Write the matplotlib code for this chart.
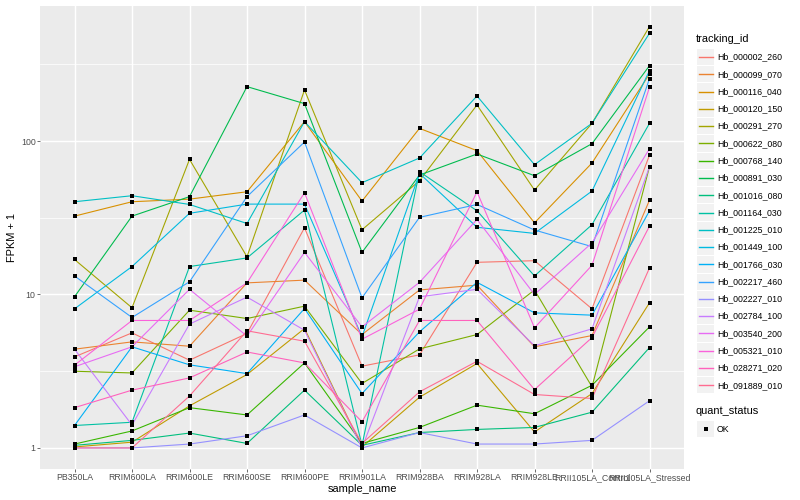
import numpy as np
import matplotlib
matplotlib.use("Agg")
import matplotlib.pyplot as plt
from matplotlib.patches import Rectangle
from matplotlib.lines import Line2D

plt.rcParams['font.family'] = ['Liberation Sans', 'DejaVu Sans']

samples = ["PB350LA", "RRIM600LA", "RRIM600LE", "RRIM600SE", "RRIM600PE", "RRIM901LA",
           "RRIM928BA", "RRIM928LA", "RRIM928LE", "RRII105LA_Control", "RRII105LA_Stressed"]

tracking_ids = ["Hb_000002_260", "Hb_000099_070", "Hb_000116_040", "Hb_000120_150",
                "Hb_000291_270", "Hb_000622_080", "Hb_000768_140", "Hb_000891_030",
                "Hb_001016_080", "Hb_001164_030", "Hb_001225_010", "Hb_001449_100",
                "Hb_001766_030", "Hb_002217_460", "Hb_002227_010", "Hb_002784_100",
                "Hb_003540_200", "Hb_005321_010", "Hb_028271_020", "Hb_091889_010"]

# FPKM values (plotted as FPKM + 1)
fpkm_000002_260 = [2.92, 4.62, 2.73, 4.57, 26.2, 2.41, 3.04, 15.2, 15.6, 7.06, 80.0]
fpkm_000099_070 = [3.40, 3.91, 3.60, 10.9, 11.4, 4.48, 9.7, 10.5, 3.56, 4.40, 40.2]
fpkm_000116_040 = [31.4, 39.2, 40.8, 45.7, 132.7, 39.6, 119.9, 85.5, 28.3, 70.9, 272.5]
fpkm_000120_150 = [0.015, 0.09, 0.88, 2.01, 5.00, 0.015, 1.14, 2.55, 0.27, 1.26, 7.83]
fpkm_000291_270 = [15.9, 7.19, 74.9, 16.6, 214.1, 25.4, 54.1, 170.7, 46.9, 129.4, 555.8]
fpkm_000622_080 = [2.16, 2.08, 6.90, 5.97, 7.39, 1.63, 3.42, 4.48, 9.7, 1.50, 67.0]
fpkm_000768_140 = [0.06, 0.29, 0.83, 0.64, 2.58, 0.07, 0.36, 0.90, 0.67, 1.56, 5.15]
fpkm_000891_030 = [8.66, 31.4, 42.4, 225.1, 174.2, 17.8, 59.0, 81.3, 58.4, 95.1, 308.9]
fpkm_001016_080 = [0.04, 0.12, 0.25, 0.07, 1.38, 0.04, 0.26, 0.32, 0.36, 0.71, 3.51]
fpkm_001164_030 = [0.40, 0.47, 14.2, 16.3, 34.5, 0.04, 62.1, 34.1, 12.2, 27.5, 129.4]
fpkm_001225_010 = [39.2, 43.0, 37.6, 28.0, 132.7, 52.5, 76.5, 195.6, 69.1, 129.4, 502.7]
fpkm_001449_100 = [7.06, 14.2, 32.8, 37.8, 37.8, 4.30, 60.5, 26.4, 24.0, 46.2, 286.4]
fpkm_001766_030 = [0.40, 3.56, 2.48, 2.05, 7.10, 1.26, 4.71, 11.0, 6.59, 6.33, 34.1]
fpkm_002217_460 = [12.2, 6.08, 11.1, 42.4, 97.5, 8.51, 30.8, 37.6, 25.3, 19.5, 254.0]
fpkm_002227_010 = [0.0, 0.0, 0.06, 0.20, 0.64, 0.0, 0.26, 0.06, 0.06, 0.12, 1.03]
fpkm_002784_100 = [3.40, 0.41, 5.41, 8.61, 4.85, 0.0, 8.66, 9.8, 3.63, 4.97, 67.0]
fpkm_003540_200 = [2.38, 3.56, 9.8, 4.35, 17.8, 5.15, 11.0, 29.8, 9.0, 20.7, 88.1]
fpkm_005321_010 = [2.46, 5.77, 5.77, 10.9, 45.0, 4.11, 7.02, 45.7, 5.06, 14.5, 222.9]
fpkm_028271_020 = [0.83, 1.38, 1.86, 3.22, 2.58, 0.48, 5.77, 5.77, 1.40, 4.24, 26.9]
fpkm_091889_010 = [0.0, 0.0, 1.18, 4.80, 3.96, 0.07, 1.32, 2.67, 1.23, 1.10, 13.9]

series = [fpkm_000002_260, fpkm_000099_070, fpkm_000116_040, fpkm_000120_150,
          fpkm_000291_270, fpkm_000622_080, fpkm_000768_140, fpkm_000891_030,
          fpkm_001016_080, fpkm_001164_030, fpkm_001225_010, fpkm_001449_100,
          fpkm_001766_030, fpkm_002217_460, fpkm_002227_010, fpkm_002784_100,
          fpkm_003540_200, fpkm_005321_010, fpkm_028271_020, fpkm_091889_010]

quant_status = ["OK"]

colors = ["#F8766D", "#EA8331", "#D89000", "#C09B00", "#A3A500", "#7CAE00", "#39B600",
          "#00BB4E", "#00BF7D", "#00C1A3", "#00BFC4", "#00BAE0", "#00B0F6", "#35A2FF",
          "#9590FF", "#C77CFF", "#E76BF3", "#FA62DB", "#FF62BC", "#FF6C91"]

W, H = 800, 500
DPI = 72
fig = plt.figure(figsize=(W / DPI, H / DPI), dpi=DPI)
fig.patch.set_facecolor("white")

# panel in pixels
pl, pr, pt, pb = 40, 684, 5.5, 469
ax = fig.add_axes([pl / W, 1 - pb / H, (pr - pl) / W, (pb - pt) / H])
ax.set_facecolor("#EBEBEB")
for s in ax.spines.values():
    s.set_visible(False)

x = np.arange(len(samples))
allv = np.array(series) + 1
lo, hi = np.log10(allv.min()), np.log10(allv.max())
pad = 0.05 * (hi - lo)
ax.set_yscale("log")
ax.set_ylim(10 ** (lo - pad), 10 ** (hi + pad))
ax.set_xlim(-0.6, len(samples) - 1 + 0.6)

# grid
for m in [10 ** 0.5, 10 ** 1.5, 10 ** 2.5]:
    ax.axhline(m, color="white", lw=0.71, zorder=0.5)
for m in [1, 10, 100]:
    ax.axhline(m, color="white", lw=1.42, zorder=0.6)
for xi in x:
    ax.axvline(xi, color="white", lw=1.42, zorder=0.6)

for vals, c in zip(series, colors):
    ax.plot(x, np.array(vals) + 1, color=c, lw=1.1, zorder=2, solid_capstyle="butt")
for vals in series:
    ax.plot(x, np.array(vals) + 1, ls="none", marker="s", ms=3.4, color="black",
            mec="black", mew=0, zorder=3)

ax.set_yticks([1, 10, 100])
ax.set_yticklabels(["1", "10", "100"])
ax.yaxis.set_minor_locator(matplotlib.ticker.NullLocator())
ax.set_xticks(x)
ax.set_xticklabels(samples)
ax.tick_params(axis="both", which="major", length=2.75, width=0.7, color="#333333",
               labelsize=8.8, labelcolor="#4D4D4D", pad=1.6)
ax.set_xlabel("sample_name", fontsize=11, color="black", labelpad=1.5)
ax.set_ylabel("FPKM + 1", fontsize=11, color="black", labelpad=4)

# legend drawn in figure pixel coordinates
lax = fig.add_axes([0, 0, 1, 1], facecolor="none")
lax.set_xlim(0, W)
lax.set_ylim(H, 0)
lax.axis("off")

kx0, kw = 697, 17.3
lax.text(696, 39, "tracking_id", fontsize=11, ha="left", va="center")
y0, dy = 57, 17.28
for i, (tid, c) in enumerate(zip(tracking_ids, colors)):
    yc = y0 + i * dy
    lax.add_patch(Rectangle((kx0, yc - dy / 2 + 0.5), kw, dy - 1, facecolor="#F2F2F2",
                            edgecolor="none"))
    lax.add_line(Line2D([kx0 + 1.7, kx0 + kw - 1.7], [yc, yc], color=c, lw=1.4))
    lax.text(717, yc, tid, fontsize=8.8, ha="left", va="center")

lax.text(696, 411, "quant_status", fontsize=11, ha="left", va="center")
yc = 429
lax.add_patch(Rectangle((kx0, yc - dy / 2 + 0.5), kw, dy - 1, facecolor="#F2F2F2",
                        edgecolor="none"))
lax.plot([kx0 + kw / 2], [yc], marker="s", ms=3.4, color="black", mew=0)
lax.text(717, yc, quant_status[0], fontsize=8.8, ha="left", va="center")

fig.savefig("out.png", dpi=DPI)
